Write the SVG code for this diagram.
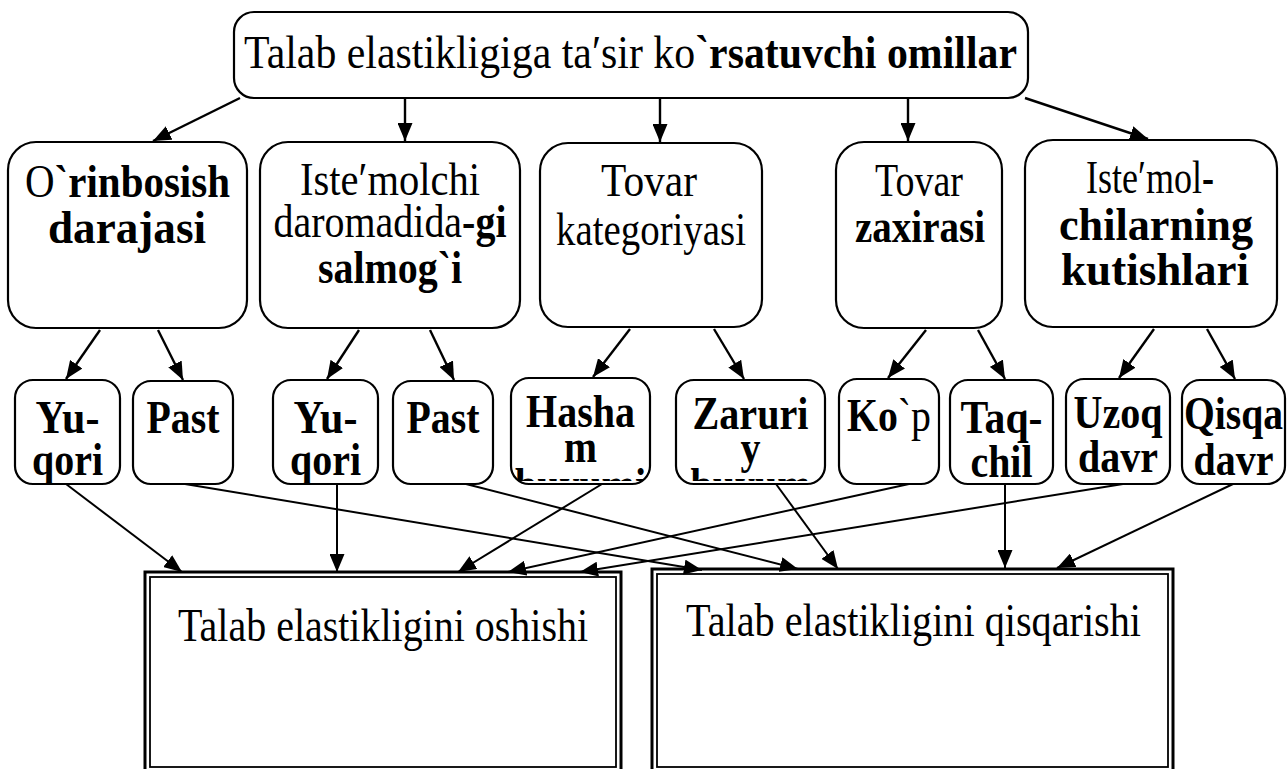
<svg xmlns="http://www.w3.org/2000/svg" width="1287" height="769" viewBox="0 0 1287 769">
<style>
.box{fill:#fff;stroke:#000;stroke-width:2.2}
.t{font-family:"Liberation Serif","Times New Roman",serif;fill:#000;font-size:46px}
.b{font-weight:bold}
.c{stroke:#000;stroke-width:2.4;fill:none;marker-end:url(#ah)}
.c2{stroke:#000;stroke-width:2;fill:none;marker-end:url(#ah)}
.ob{fill:#fff;stroke:#000;stroke-width:3}
.ib{fill:none;stroke:#000;stroke-width:1.8}
</style>
<defs>
<marker id="ah" viewBox="0 0 18 15" refX="18" refY="7.5" markerWidth="18" markerHeight="15" markerUnits="userSpaceOnUse" orient="auto"><path d="M0,0 L18,7.5 L0,15 z" fill="#000"/></marker>
<clipPath id="clipH"><rect x="511" y="380" width="139" height="101"/></clipPath>
<clipPath id="clipZ"><rect x="676" y="380" width="149" height="101"/></clipPath>
</defs>
<rect width="1287" height="769" fill="#fff"/>

<g id="top">
<rect class="box" x="234" y="12" width="794" height="86" rx="20"/>
<text class="t" x="244" y="68" style="font-size:47px" textLength="773" lengthAdjust="spacingAndGlyphs">Talab elastikligiga ta′sir ko<tspan class="b">`rsatuvchi omillar</tspan></text>
</g>

<g id="f1">
<rect class="box" x="8" y="142" width="239" height="186" rx="28"/>
<text class="t" x="25" y="197" textLength="205" lengthAdjust="spacingAndGlyphs">O<tspan class="b">`rinbosish</tspan></text>
<text class="t b" x="48" y="243" textLength="158" lengthAdjust="spacingAndGlyphs">darajasi</text>
</g>
<g id="f2">
<rect class="box" x="260" y="142" width="260" height="186" rx="28"/>
<text class="t" x="300" y="195" textLength="180" lengthAdjust="spacingAndGlyphs">Iste′molchi</text>
<text class="t" x="273.5" y="237" textLength="233" lengthAdjust="spacingAndGlyphs">daromadida<tspan class="b">-gi</tspan></text>
<text class="t b" x="318" y="283" textLength="144" lengthAdjust="spacingAndGlyphs">salmog`i</text>
</g>
<g id="f3">
<rect class="box" x="540" y="143" width="222" height="184" rx="28"/>
<text class="t" x="601" y="196" textLength="96" lengthAdjust="spacingAndGlyphs">Tovar</text>
<text class="t" x="556" y="245" textLength="190" lengthAdjust="spacingAndGlyphs">kategoriyasi</text>
</g>
<g id="f4">
<rect class="box" x="836" y="142" width="166" height="186" rx="28"/>
<text class="t" x="875" y="196" textLength="88" lengthAdjust="spacingAndGlyphs">Tovar</text>
<text class="t b" x="855" y="242" textLength="130" lengthAdjust="spacingAndGlyphs">zaxirasi</text>
</g>
<g id="f5">
<rect class="box" x="1025" y="140" width="252" height="187" rx="28"/>
<text class="t" x="1086" y="193" textLength="128" lengthAdjust="spacingAndGlyphs">Iste′mol<tspan class="b">-</tspan></text>
<text class="t b" x="1059" y="240" textLength="194" lengthAdjust="spacingAndGlyphs">chilarning</text>
<text class="t b" x="1061" y="285" textLength="188" lengthAdjust="spacingAndGlyphs">kutishlari</text>
</g>

<g id="s1">
<rect class="box" x="15" y="380" width="105" height="104" rx="18"/>
<text class="t b" x="35.5" y="433" textLength="64" lengthAdjust="spacingAndGlyphs">Yu-</text>
<text class="t b" x="32" y="475" textLength="71" lengthAdjust="spacingAndGlyphs">qori</text>
</g>
<g id="s2">
<rect class="box" x="133" y="381" width="100" height="103" rx="18"/>
<text class="t b" x="146.5" y="433" textLength="73" lengthAdjust="spacingAndGlyphs">Past</text>
</g>
<g id="s3">
<rect class="box" x="273" y="380" width="105" height="104" rx="18"/>
<text class="t b" x="293.5" y="433" textLength="64" lengthAdjust="spacingAndGlyphs">Yu-</text>
<text class="t b" x="290" y="475" textLength="71" lengthAdjust="spacingAndGlyphs">qori</text>
</g>
<g id="s4">
<rect class="box" x="393" y="381" width="100" height="103" rx="18"/>
<text class="t b" x="406.5" y="433" textLength="73" lengthAdjust="spacingAndGlyphs">Past</text>
</g>
<g id="s5">
<rect class="box" x="511" y="378" width="139" height="106" rx="18"/>
<text class="t b" x="526" y="427" textLength="109" lengthAdjust="spacingAndGlyphs">Hasha</text>
<text class="t b" x="564" y="462" textLength="33" lengthAdjust="spacingAndGlyphs">m</text>
<text class="t b" x="515" y="500" textLength="131" lengthAdjust="spacingAndGlyphs" clip-path="url(#clipH)">buyumi</text>
</g>
<g id="s6">
<rect class="box" x="676" y="380" width="149" height="104" rx="18"/>
<text class="t b" x="692.5" y="429" textLength="116" lengthAdjust="spacingAndGlyphs">Zaruri</text>
<text class="t b" x="740.5" y="463" textLength="20" lengthAdjust="spacingAndGlyphs">y</text>
<text class="t b" x="690.5" y="500" textLength="120" lengthAdjust="spacingAndGlyphs" clip-path="url(#clipZ)">buyum</text>
</g>
<g id="s7">
<rect class="box" x="839" y="379" width="100" height="105" rx="18"/>
<text class="t" x="847" y="431" textLength="84" lengthAdjust="spacingAndGlyphs"><tspan class="b">Ko</tspan>`p</text>
</g>
<g id="s8">
<rect class="box" x="950" y="380" width="103" height="104" rx="18"/>
<text class="t b" x="960.5" y="433" textLength="82" lengthAdjust="spacingAndGlyphs">Taq-</text>
<text class="t b" x="970.5" y="477" textLength="62" lengthAdjust="spacingAndGlyphs">chil</text>
</g>
<g id="s9">
<rect class="box" x="1066" y="379" width="104" height="105" rx="18"/>
<text class="t b" x="1073.5" y="428" textLength="89" lengthAdjust="spacingAndGlyphs">Uzoq</text>
<text class="t b" x="1078" y="472" textLength="80" lengthAdjust="spacingAndGlyphs">davr</text>
</g>
<g id="s10">
<rect class="box" x="1182" y="380" width="103" height="104" rx="18"/>
<text class="t b" x="1184" y="429" textLength="99" lengthAdjust="spacingAndGlyphs">Qisqa</text>
<text class="t b" x="1193.5" y="475" textLength="80" lengthAdjust="spacingAndGlyphs">davr</text>
</g>

<g id="r1">
<rect class="ob" x="145" y="572" width="476" height="205"/>
<rect class="ib" x="150" y="577" width="466" height="190"/>
<text class="t" x="178" y="641" textLength="410" lengthAdjust="spacingAndGlyphs">Talab elastikligini oshishi</text>
</g>
<g id="r2">
<rect class="ob" x="652" y="569" width="521" height="208"/>
<rect class="ib" x="657" y="574" width="511" height="193"/>
<text class="t" x="686" y="636" textLength="455" lengthAdjust="spacingAndGlyphs">Talab elastikligini qisqarishi</text>
</g>

<g id="connectors">
<line class="c" x1="240" y1="98" x2="153" y2="141"/>
<line class="c" x1="405" y1="98" x2="405" y2="141"/>
<line class="c" x1="660" y1="98" x2="660" y2="142"/>
<line class="c" x1="908" y1="98" x2="908" y2="141"/>
<line class="c" x1="1025" y1="98" x2="1148" y2="139"/>

<line class="c" x1="100" y1="330" x2="66" y2="379"/>
<line class="c" x1="158" y1="330" x2="183" y2="380"/>
<line class="c" x1="359" y1="330" x2="327" y2="379"/>
<line class="c" x1="430" y1="330" x2="454" y2="380"/>
<line class="c" x1="630" y1="329" x2="593" y2="377"/>
<line class="c" x1="714" y1="329" x2="744" y2="379"/>
<line class="c" x1="926" y1="330" x2="888" y2="378"/>
<line class="c" x1="978" y1="330" x2="1005" y2="379"/>
<line class="c" x1="1154" y1="329" x2="1119" y2="378"/>
<line class="c" x1="1207" y1="329" x2="1235" y2="379"/>

<line class="c2" x1="66" y1="484" x2="182" y2="572"/>
<line class="c2" x1="185" y1="484" x2="702" y2="570"/>
<line class="c2" x1="337" y1="484" x2="337" y2="572"/>
<line class="c2" x1="466" y1="484" x2="798" y2="569"/>
<line class="c2" x1="602" y1="484" x2="458" y2="572"/>
<line class="c2" x1="776" y1="484" x2="838" y2="569"/>
<line class="c2" x1="909" y1="484" x2="508" y2="572"/>
<line class="c2" x1="1005" y1="484" x2="1005" y2="568"/>
<line class="c2" x1="1123" y1="484" x2="580" y2="572"/>
<line class="c2" x1="1233" y1="484" x2="1057" y2="568"/>
</g>
</svg>
